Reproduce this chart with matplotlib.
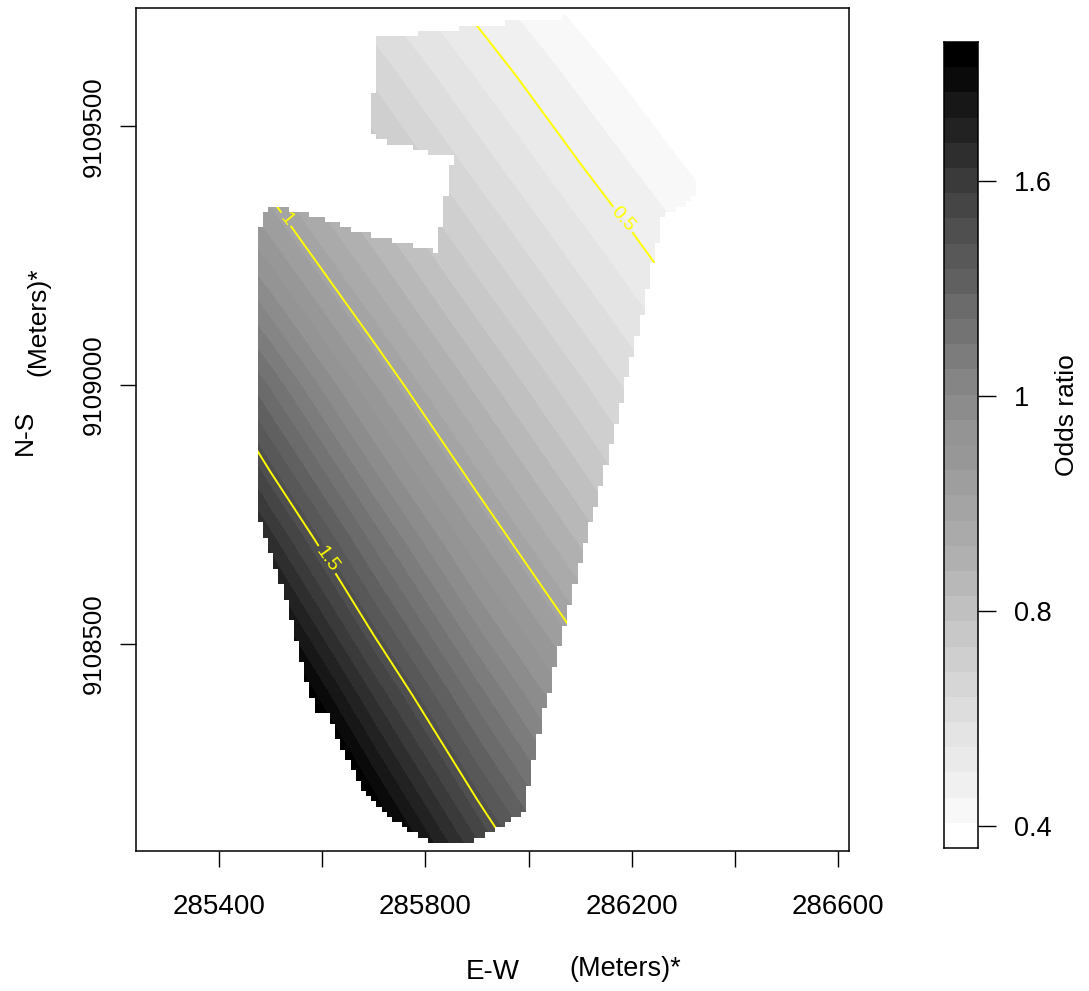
"""Odds ratio surface over the survey block, with 0.5 / 1 / 1.5 contours."""
import numpy as np
import matplotlib
matplotlib.use("Agg")
import matplotlib.pyplot as plt
from matplotlib.colors import ListedColormap, BoundaryNorm
from matplotlib.path import Path

plt.rcParams["font.family"] = ["Liberation Sans", "DejaVu Sans"]

# log odds ratio at coarse nodes
grid_x = [285300, 285500, 285700, 285900, 286100, 286300, 286500]
grid_y = [9108100, 9108400, 9108700, 9109000, 9109300, 9109600, 9109750]
log_or = [
    [1.047, 0.855, 0.662, 0.468, 0.275, 0.082, -0.111],
    [0.886, 0.684, 0.482, 0.278, 0.076, -0.125, -0.327],
    [0.710, 0.497, 0.284, 0.068, -0.145, -0.360, -0.575],
    [0.512, 0.288, 0.063, -0.153, -0.363, -0.573, -0.783],
    [0.260, 0.047, -0.165, -0.379, -0.591, -0.800, -1.010],
    [0.038, -0.178, -0.395, -0.613, -0.829, -1.045, -1.260],
    [-0.075, -0.298, -0.520, -0.740, -0.965, -1.190, -1.410],
]

# outline of the block
outline_x = [285710, 285770, 285842, 285925, 285997, 286105, 286328, 286319, 286280, 286262,
             286241, 286216, 286187, 286158, 286133, 286119, 286074, 286045, 286022, 286003,
             285989, 285950, 285900, 285873, 285828, 285803, 285731, 285687, 285648, 285629,
             285611, 285586, 285571, 285543, 285524, 285499, 285474, 285474, 285476, 285489,
             285501, 285522, 285543, 285572, 285605, 285634, 285667, 285698, 285731, 285760,
             285793, 285824, 285832, 285844, 285852, 285824, 285795, 285764, 285733, 285706,
             285695, 285698, 285706]
outline_y = [9109671, 9109677, 9109688, 9109696, 9109706, 9109712, 9109416, 9109364, 9109333, 9109329,
             9109242, 9109116, 9109000, 9108874, 9108778, 9108733, 9108551, 9108429, 9108339, 9108236,
             9108172, 9108149, 9108120, 9108110, 9108110, 9108120, 9108163, 9108203, 9108275, 9108319,
             9108362, 9108371, 9108424, 9108532, 9108604, 9108681, 9108758, 9109120, 9109290, 9109329,
             9109346, 9109346, 9109337, 9109333, 9109319, 9109313, 9109296, 9109290, 9109282, 9109275,
             9109265, 9109257, 9109325, 9109391, 9109441, 9109443, 9109454, 9109462, 9109468, 9109478,
             9109485, 9109557, 9109609]

# colour bar bands, bottom to top, even steps of odds ratio
band_grays = ["#ffffff", "#f8f8f8", "#f0f0f0", "#eaeaea", "#e4e4e4", "#dddddd", "#d6d6d6", "#cfcfcf",
              "#c8c8c8", "#c0c0c0", "#b8b8b8", "#b0b0b0", "#aaaaaa", "#a4a4a4", "#9e9e9e", "#979797",
              "#949494", "#8c8c8c", "#858585", "#7c7c7c", "#737373", "#6b6b6b", "#606060", "#585858",
              "#4f4f4f", "#454545", "#3a3a3a", "#2e2e2e", "#222222", "#171717", "#0a0a0a", "#000000"]
band_low, band_high = 0.359, 1.859

contour_levels = [0.5, 1.0, 1.5]
contour_labels = ["0.5", "1", "1.5"]
label_x = [286171, 285524, 285609]
label_y = [9109308, 9109315, 9108662]

bar_ticks = [0.4, 0.8, 1.2, 1.6]
bar_tick_labels = ["0.4", "0.8", "1", "1.6"]
x_ticks = [285400, 285600, 285800, 286000, 286200, 286400, 286600]
x_tick_labels = ["285400", "", "285800", "", "286200", "", "286600"]
y_ticks = [9108500, 9109000, 9109500]

W, H = 1089, 991
fig = plt.figure(figsize=(W / 100, H / 100), dpi=100)
ax = fig.add_axes([136 / W, 1 - 851 / H, 713 / W, 843 / H])
cax = fig.add_axes([944 / W, 1 - 848 / H, 34 / W, 806 / H])

levels = np.linspace(band_low, band_high, len(band_grays) + 1)
cmap = ListedColormap(band_grays)
cmap.set_under(band_grays[0])
cmap.set_over(band_grays[-1])
log_levels = np.log(levels)
log_norm = BoundaryNorm(log_levels, cmap.N)

ax.contourf(grid_x, grid_y, log_or, levels=log_levels, cmap=cmap, norm=log_norm, extend="both", zorder=1)
cs = ax.contour(grid_x, grid_y, log_or, levels=np.log(contour_levels), colors="#ffff00",
                linewidths=1.4, linestyles="solid", zorder=1.1)
ax.clabel(cs, fmt=dict(zip(cs.levels, contour_labels)), fontsize=14, inline=True, inline_spacing=3,
          manual=list(zip(label_x, label_y)))

ax.set_xlim(285239, 286621)
ax.set_ylim(9108099, 9109729)

# white cells outside the outline, gives the stepped edge of the raster
xe = np.arange(285205, 286660, 10.0)
ye = np.arange(9108065, 9109765, 10.0)
xc, yc = np.meshgrid((xe[:-1] + xe[1:]) / 2, (ye[:-1] + ye[1:]) / 2)
inside = Path(np.column_stack([outline_x, outline_y])).contains_points(np.column_stack([xc.ravel(), yc.ravel()]))
outside = np.ma.masked_where(inside.reshape(xc.shape), np.ones(xc.shape))
ax.pcolormesh(xe, ye, outside, cmap=ListedColormap(["white"]), antialiased=False, zorder=1.2)

ax.set_xticks(x_ticks)
ax.set_xticklabels(x_tick_labels)
ax.set_yticks(y_ticks)
ax.set_yticklabels([str(v) for v in y_ticks], rotation=90, va="center")
ax.tick_params(axis="x", length=11.5, width=1.0, labelsize=20, pad=19.5)
ax.tick_params(axis="y", length=11.5, width=1.0, labelsize=18.5, pad=10.5)
for s in ax.spines.values():
    s.set_linewidth(1.1)

fig.text(493 / W, 1 - 972 / H, "E-W", fontsize=20, ha="center", va="center")
fig.text(625 / W, 1 - 969 / H, "(Meters)*", fontsize=19.5, ha="center", va="center")
fig.text(25 / W, 1 - 432 / H, "N-S", fontsize=19, ha="center", va="center", rotation=90)
fig.text(38 / W, 1 - 322 / H, "(Meters)*", fontsize=19, ha="center", va="center", rotation=90)

cax.pcolormesh([0, 1], levels, np.arange(len(band_grays)).reshape(-1, 1), cmap=cmap, antialiased=False)
cax.set_xticks([])
cax.set_ylim(band_low, band_high)
cax.yaxis.tick_right()
cax.set_yticks(bar_ticks)
cax.set_yticklabels(bar_tick_labels)
cax.tick_params(axis="y", length=13, width=1.0, labelsize=19.5, pad=13)
for s in cax.spines.values():
    s.set_linewidth(1.1)
fig.text(1067 / W, 1 - 415 / H, "Odds ratio", fontsize=19, ha="center", va="center", rotation=90)

fig.savefig("out.png", dpi=100)
